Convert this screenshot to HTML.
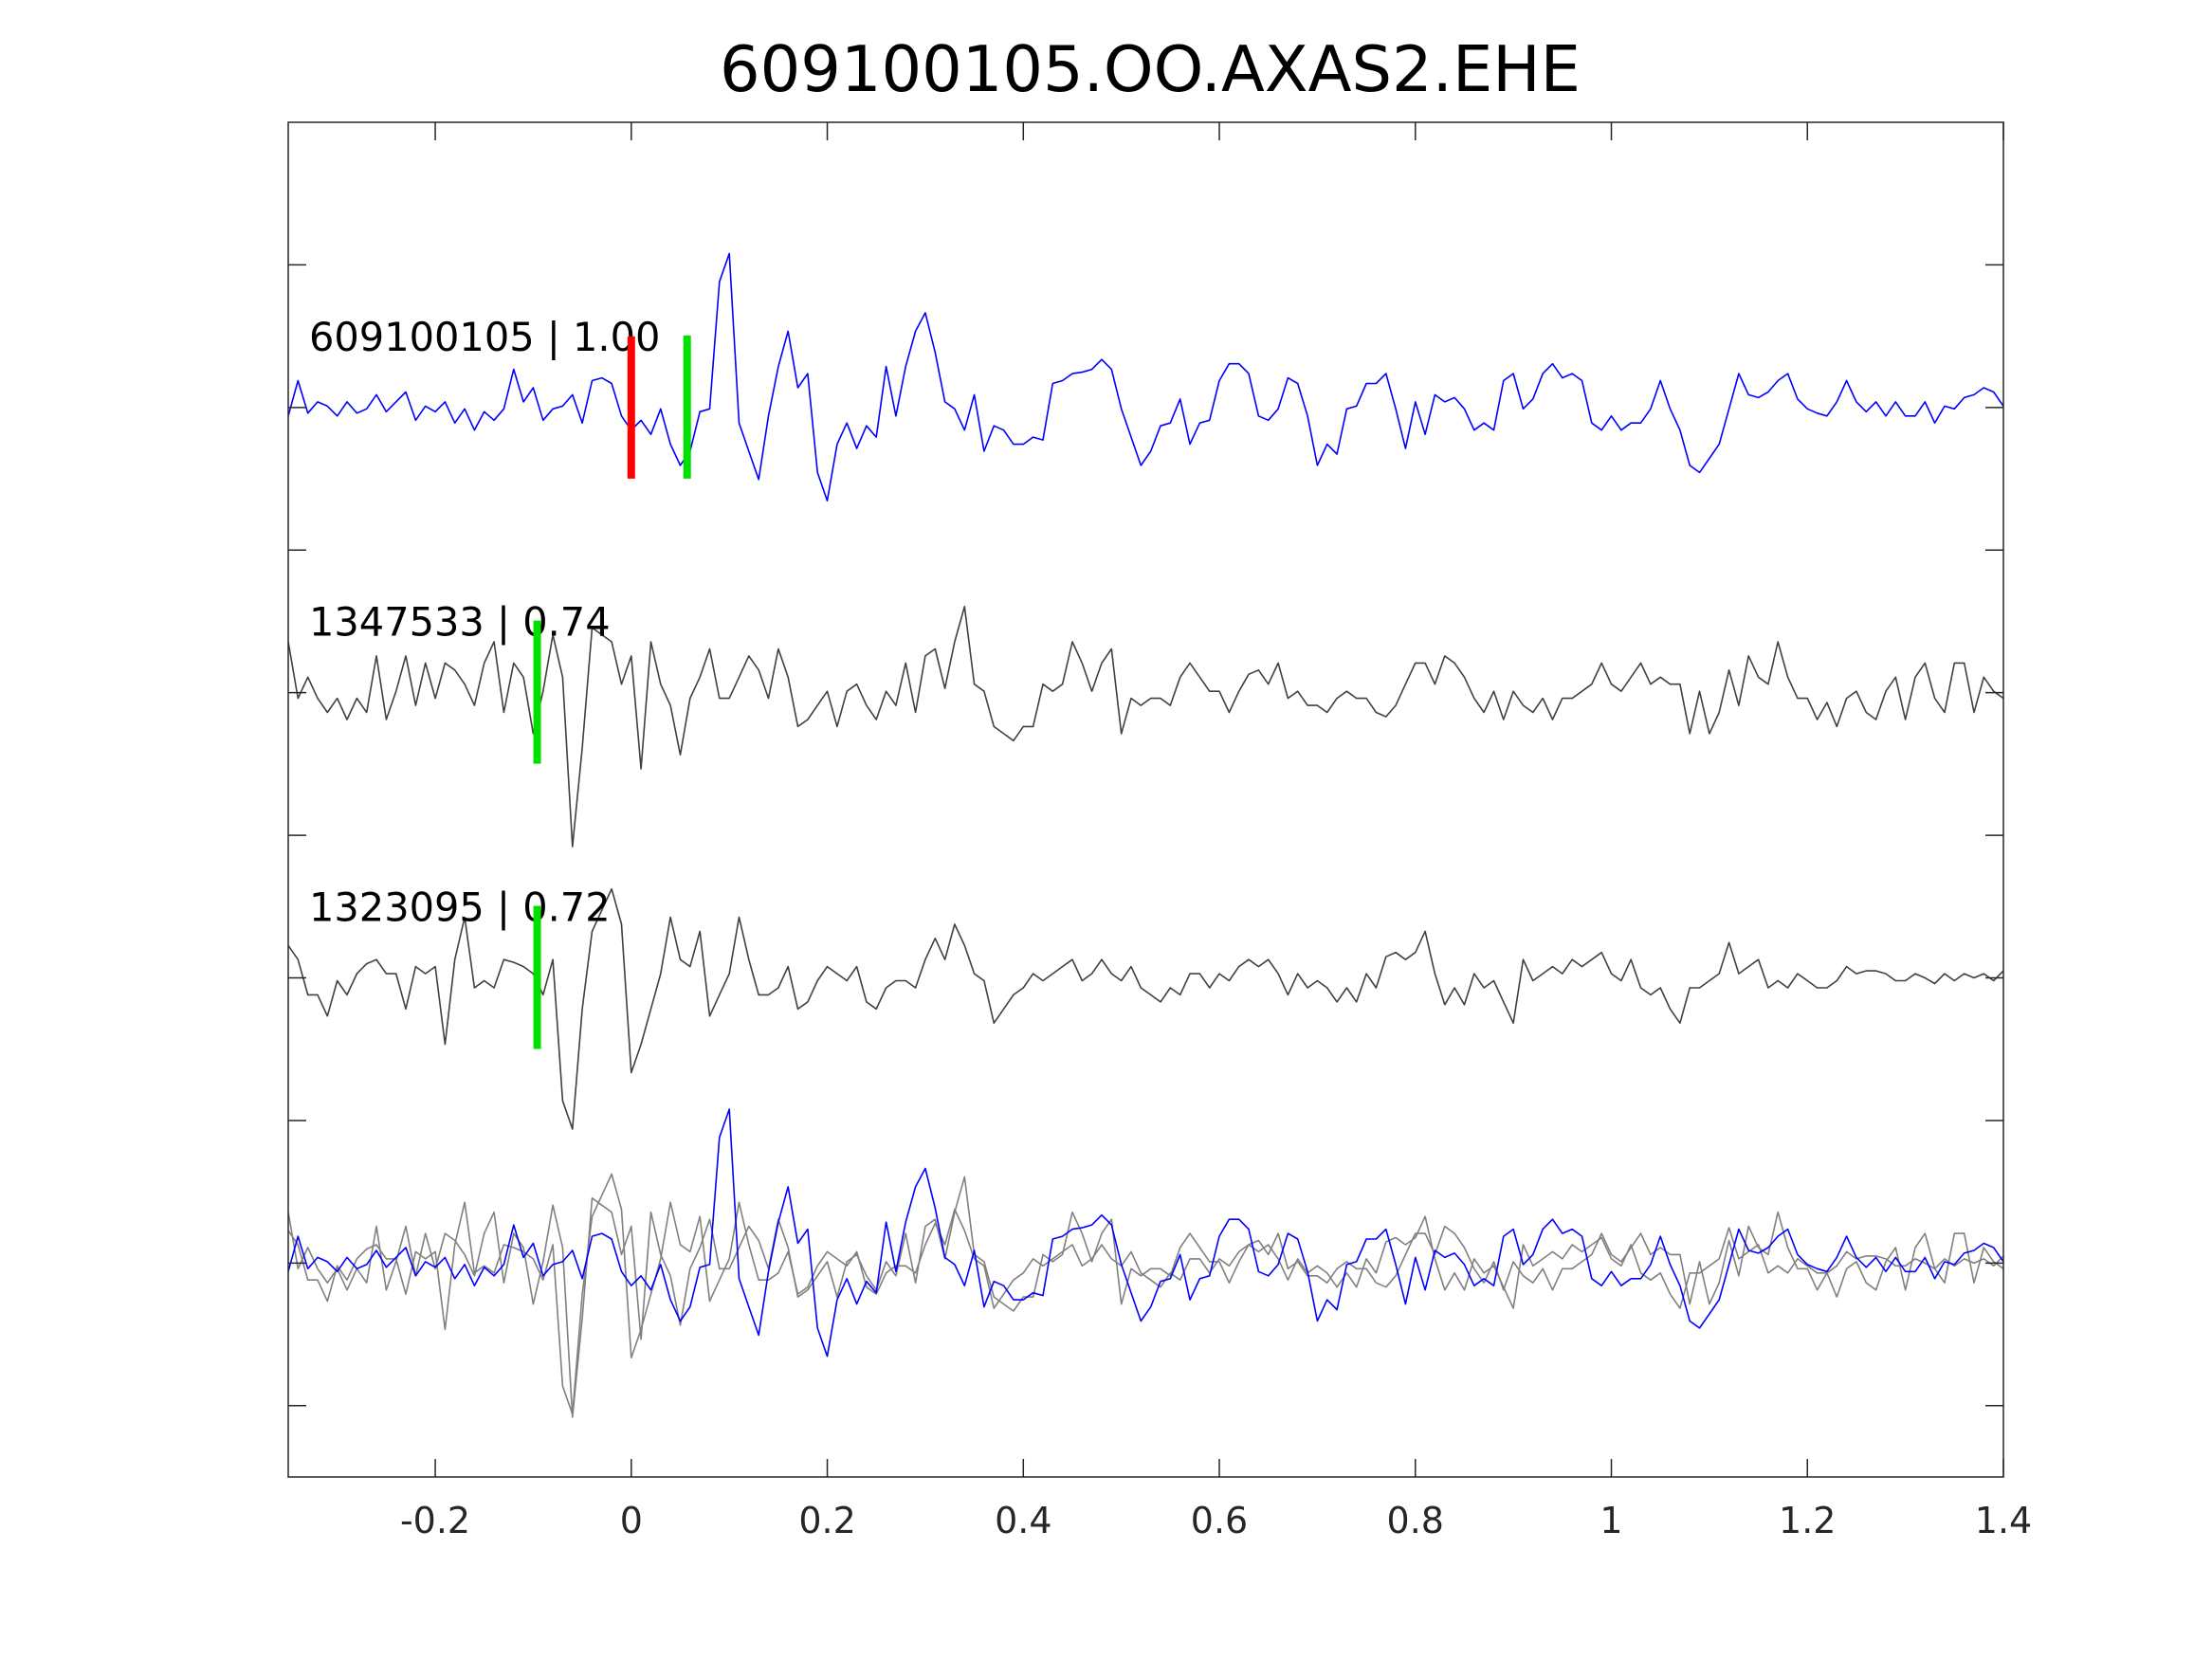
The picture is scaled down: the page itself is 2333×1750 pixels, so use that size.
<!DOCTYPE html>
<html><head><meta charset="utf-8"><style>
html,body{margin:0;padding:0;background:#fff;}
svg{display:block;font-family:"DejaVu Sans","Liberation Sans",sans-serif;}
</style></head><body>
<svg id="chart" width="2333" height="1750" viewBox="0 0 2333 1750" xmlns="http://www.w3.org/2000/svg">
<rect width="2333" height="1750" fill="#fff"/>
<text x="1213" y="96" font-size="67" text-anchor="middle" fill="#000">609100105.OO.AXAS2.EHE</text>
<g id="plot"></g>
</svg>
<script>
// ---- data ----
const tStart = -0.35, tEnd = 1.4;
const xTicks = [-0.2, 0, 0.2, 0.4, 0.6, 0.8, 1, 1.2, 1.4];
const xTickLabels = ["-0.2","0","0.2","0.4","0.6","0.8","1","1.2","1.4"];
const yTicks = [1,2,3,4,5,6,7,8,9];
const traceLabels = ["609100105 | 1.00","1347533 | 0.74","1323095 | 0.72"];
const traceBaselines = [2,4,6];
const overlayBaseline = 8;
const redPicks = [0];
const greenPicks = [0.057, -0.096, -0.096];
const blueTrace = [-6,19,-4,4,1,-6,4,-4,-1,9,-3,4,11,-9,1,-3,4,-11,-1,-16,-3,-9,-1,27,4,14,-9,-1,1,9,-11,19,21,17,-6,-16,-9,-19,-1,-26,-41,-31,-3,-1,89,109,-11,-31,-51,-6,29,54,14,24,-46,-66,-26,-11,-29,-13,-21,29,-6,29,54,67,39,4,-1,-16,9,-31,-13,-16,-26,-26,-21,-23,17,19,24,25,27,34,27,-1,-21,-41,-31,-13,-11,6,-26,-11,-9,19,31,31,24,-6,-9,-1,21,17,-6,-41,-26,-33,-1,1,17,17,24,-1,-29,4,-19,9,4,7,-1,-16,-11,-16,19,24,-1,6,24,31,21,24,19,-11,-16,-6,-16,-11,-11,-1,19,-1,-16,-41,-46,-36,-26,-1,24,9,7,11,19,24,6,-1,-4,-6,4,19,4,-3,4,-6,4,-6,-6,4,-11,1,-1,7,9,14,11,1];
const trace2 = [36,-4,11,-4,-14,-4,-19,-4,-14,26,-19,1,26,-9,21,-4,21,16,6,-9,21,36,-14,21,11,-29,1,41,11,-109,-39,46,41,36,6,26,-54,36,6,-9,-44,-4,11,31,-4,-4,11,26,16,-4,31,11,-24,-19,-9,1,-24,1,6,-9,-19,1,-9,21,-14,26,31,3,36,61,6,1,-24,-29,-34,-24,-24,6,1,6,36,21,1,21,31,-29,-4,-9,-4,-4,-9,11,21,11,1,1,-14,1,13,16,6,21,-4,1,-9,-9,-14,-4,1,-4,-4,-14,-17,-9,6,21,21,6,26,21,11,-4,-14,1,-19,1,-9,-14,-4,-19,-4,-4,1,6,21,6,1,11,21,6,11,6,6,-29,1,-29,-14,16,-9,26,11,6,36,11,-4,-4,-19,-7,-24,-4,1,-14,-19,1,11,-19,11,21,-4,-14,21,21,-14,11,1,-4];
const trace3 = [23,13,-12,-12,-27,-2,-12,3,10,13,3,3,-22,8,3,8,-47,13,43,-7,-2,-7,13,11,8,3,-12,13,-87,-107,-22,33,48,63,38,-67,-47,-22,3,43,13,8,33,-27,-12,3,43,13,-12,-12,-7,8,-22,-17,-2,8,3,-2,8,-17,-22,-7,-2,-2,-7,13,28,13,38,23,3,-2,-32,-22,-12,-7,3,-2,3,8,13,-2,3,13,3,-2,8,-7,-12,-17,-7,-12,3,3,-7,3,-2,8,13,8,13,3,-12,3,-7,-2,-7,-17,-7,-17,3,-7,15,18,13,18,33,3,-19,-7,-19,3,-7,-2,-17,-32,13,-2,3,8,3,13,8,13,18,3,-2,13,-7,-12,-7,-22,-32,-7,-7,-2,3,25,3,8,13,-7,-2,-7,3,-2,-7,-7,-2,8,3,5,5,3,-2,-2,3,0,-4,3,-2,3,0,3,-2,5];

// ---- layout ----
const L = 304, R = 2113, T = 129, B = 1558;
const tickSpacing = (B - T) / 9.5;
const ampScale = 1.49; // px per data unit
function xScale(t){ return L + (t - tStart) / (tEnd - tStart) * (R - L); }
function yScale(k){ return T + k * tickSpacing; }
const NS = "http://www.w3.org/2000/svg";
const plot = document.getElementById('plot');
function mk(tag, attrs){ const e = document.createElementNS(NS, tag); for (const k in attrs) e.setAttribute(k, attrs[k]); plot.appendChild(e); return e; }

function drawTrace(arr, base, color, name){
  const n = arr.length;
  let d = '';
  for (let i = 0; i < n; i++){
    const t = tStart + i * (tEnd - tStart) / (n - 1);
    const x = xScale(t), y = yScale(base) - arr[i] * ampScale;
    d += (i ? 'L' : 'M') + x.toFixed(1) + ' ' + y.toFixed(1);
  }
  const p = mk('path', {d: d, fill: 'none', stroke: color, 'stroke-width': 1.6, 'stroke-linejoin': 'round'});
  
  
}

drawTrace(trace2, overlayBaseline, '#808080', 'overlay-trace-1347533');
drawTrace(trace3, overlayBaseline, '#808080', 'overlay-trace-1323095');
drawTrace(blueTrace, overlayBaseline, '#0000ff', 'overlay-trace-609100105');
drawTrace(blueTrace, traceBaselines[0], '#0000ff', 'trace-609100105');
drawTrace(trace2, traceBaselines[1], '#404040', 'trace-1347533');
drawTrace(trace3, traceBaselines[2], '#404040', 'trace-1323095');

traceLabels.forEach((lab, i) => {
  const tx = mk('text', {x: 326, y: yScale(traceBaselines[i]) - 60, 'font-size': 41.5, fill: '#000'});
  tx.textContent = lab;
  
  
});

redPicks.forEach((t) => {
  const l = mk('line', {x1: xScale(t), x2: xScale(t), y1: yScale(traceBaselines[0]) - 75, y2: yScale(traceBaselines[0]) + 75, stroke: '#ff0000', 'stroke-width': 8});
  
  
});
greenPicks.forEach((t, i) => {
  const b = yScale(traceBaselines[i]);
  const l = mk('line', {x1: xScale(t), x2: xScale(t), y1: b - 76, y2: b + 75, stroke: '#00e000', 'stroke-width': 8});
  
  
});

const box = mk('rect', {x: L, y: T, width: R - L, height: B - T, fill: 'none', stroke: '#262626', 'stroke-width': 1.5});



xTicks.forEach((t, i) => {
  const x = xScale(t);
  mk('line', {x1: x, x2: x, y1: B, y2: B - 19, stroke: '#262626', 'stroke-width': 1.5});
  mk('line', {x1: x, x2: x, y1: T, y2: T + 19, stroke: '#262626', 'stroke-width': 1.5});
  const tx = mk('text', {x: x, y: 1617, 'font-size': 38, 'text-anchor': 'middle', fill: '#262626'});
  tx.textContent = xTickLabels[i];
  
  
});
yTicks.forEach((k) => {
  const y = yScale(k);
  mk('line', {x1: L, x2: L + 19, y1: y, y2: y, stroke: '#262626', 'stroke-width': 1.5});
  mk('line', {x1: R, x2: R - 19, y1: y, y2: y, stroke: '#262626', 'stroke-width': 1.5});
});
</script>
</body></html>
